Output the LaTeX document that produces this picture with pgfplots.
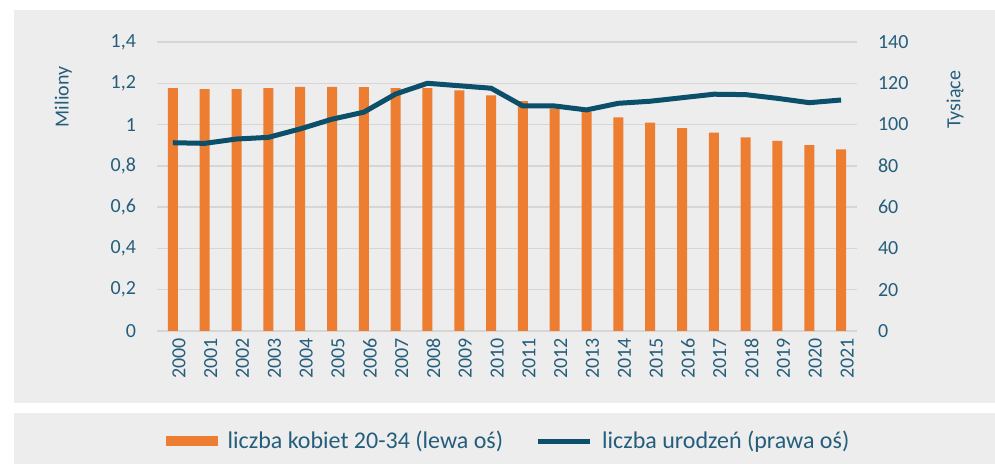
\documentclass[border=0pt]{standalone}
\usepackage{pgfplots}
\pgfplotsset{compat=1.18}
\usepackage{fontspec}
\setmainfont{Carlito}

\definecolor{barorange}{HTML}{ED7D31}
\definecolor{linedark}{HTML}{0B4F6A}
\definecolor{txt}{HTML}{245E7C}
\definecolor{panel}{HTML}{EDEDED}
\definecolor{gridc}{HTML}{D6D6D6}

\begin{document}
\begin{tikzpicture}[x=1pt,y=1pt]
% page and panels (1px = 0.5pt)
\fill[white] (0,0) rectangle (497.5,232);
\useasboundingbox (0,0) rectangle (497.5,232);
\fill[panel] (7,30.5) rectangle (497.5,227);
\fill[panel] (7,0) rectangle (497.5,25.5);

\pgfplotsset{
  base/.style={
    scale only axis, width=350pt, height=144.5pt,
    at={(78.5pt,66.5pt)}, anchor=south west,
    xmin=-0.5, xmax=21.5,
    ymin=0,
    axis line style={draw=none},
    tick style={draw=none},
    tick label style={font=\fontsize{10}{12}\selectfont, text=txt},
    label style={font=\fontsize{10}{12}\selectfont, text=txt},
    /pgf/number format/assume math mode=true,
    /pgf/number format/use comma,
  },
}

\begin{axis}[base,
  ymax=1.4, ytick={0,0.2,...,1.4},
  yticklabel style={/pgf/number format/fixed, /pgf/number format/precision=1},
  ymajorgrids, grid style={gridc, line width=0.75pt},
  xtick={0,...,21},
  xticklabels={2000,2001,2002,2003,2004,2005,2006,2007,2008,2009,2010,2011,2012,2013,2014,2015,2016,2017,2018,2019,2020,2021},
  xticklabel style={rotate=90, anchor=east},
  major tick length=0pt,
  x tick label style={yshift=-3pt},
  y tick label style={xshift=-7pt},
  ylabel={Miliony},
  ylabel style={at={(axis description cs:-0.134,0.81)}, anchor=center},
  legend columns=2,
  legend style={at={(axis description cs:0.5036,-0.381)}, anchor=center,
    draw=none, fill=none, font=\fontsize{12}{14}\selectfont, text=txt,
    /tikz/every odd column/.append style={column sep=3pt},
    /tikz/every even column/.append style={column sep=14pt}},
]
\addplot[ybar, bar width=5pt, fill=barorange, draw=none,
  legend image code/.code={\fill[barorange] (0pt,-2.5pt) rectangle (26pt,2.5pt);}]
  coordinates {
  (0,1.176) (1,1.172) (2,1.172) (3,1.177) (4,1.182) (5,1.182) (6,1.181)
  (7,1.176) (8,1.177) (9,1.166) (10,1.142) (11,1.113) (12,1.079) (13,1.063)
  (14,1.035) (15,1.009) (16,0.983) (17,0.961) (18,0.938) (19,0.921)
  (20,0.901) (21,0.880)
};
\addlegendentry{liczba kobiet 20-34 (lewa oś)}
\addlegendimage{linedark, line width=2.5pt,
  legend image code/.code={\draw[linedark, line width=2.5pt] (0pt,0pt) -- (26pt,0pt);}}
\addlegendentry{liczba urodzeń (prawa oś)}
\end{axis}

\begin{axis}[base,
  ymax=140, ytick={0,20,...,140},
  axis y line*=right, axis x line=none,
  xtick=\empty,
  y tick label style={xshift=7pt},
  ylabel={Tysiące},
  ylabel style={at={(axis description cs:1.14,0.80)}, anchor=center, rotate=0},
]
\addplot[linedark, line width=2.5pt, line join=round, mark=none]
  coordinates {
  (0,91.2) (1,90.9) (2,93.0) (3,93.8) (4,97.9) (5,102.6) (6,106.0)
  (7,114.8) (8,120.0) (9,118.8) (10,117.6) (11,109.0) (12,109.0) (13,107.1)
  (14,110.3) (15,111.3) (16,113.0) (17,114.7) (18,114.5) (19,112.7)
  (20,110.6) (21,111.9)
};
\end{axis}
\end{tikzpicture}
\end{document}
